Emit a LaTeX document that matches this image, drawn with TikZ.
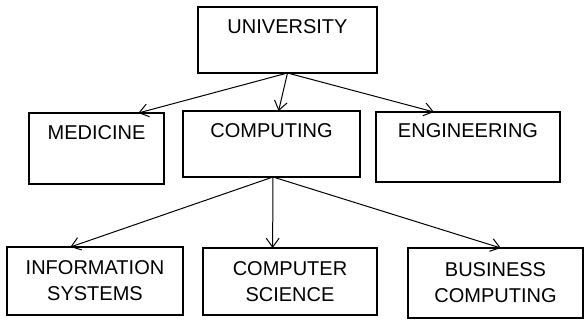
\documentclass[tikz,border=0pt]{standalone}
\usepackage{fontspec}
\setmainfont{Liberation Sans}
\usetikzlibrary{arrows.meta,calc}
\tikzset{
  box/.style={draw, line width=1.4pt, anchor=north west, inner sep=0pt, outer sep=0pt},
  lbl/.style={anchor=base, align=center, inner sep=0pt, font=\fontsize{20}{26}\selectfont},
  conn/.style={line width=1pt, -{Straight Barb[length=9pt,width=13pt,line width=1pt]}}
}
\begin{document}
\begin{tikzpicture}[x=1pt,y=-1pt]
\useasboundingbox (0,0) rectangle (585,320);
% boxes
\node[box, minimum width=179pt, minimum height=66pt] (uni) at (198,7) {};
\node[box, minimum width=135pt, minimum height=71pt] (med) at (29,113) {};
\node[box, minimum width=177pt, minimum height=66pt] (comp) at (183,111) {};
\node[box, minimum width=184pt, minimum height=70pt] (eng) at (376,112) {};
\node[box, minimum width=176pt, minimum height=68pt] (info) at (7,247) {};
\node[box, minimum width=174pt, minimum height=67pt] (cs) at (203,248) {};
\node[box, minimum width=175pt, minimum height=70pt] (bus) at (408,248) {};
% labels
\node[lbl] (tuni) at ([yshift=-27pt]uni.north) {UNIVERSITY};
\node[lbl] (tmed) at ([yshift=-27pt]med.north) {MEDICINE};
\node[lbl] (tcomp) at ([yshift=-27pt]comp.north) {COMPUTING};
\node[lbl] (teng) at ([yshift=-26pt]eng.north) {ENGINEERING};
\node[lbl] (tinfo) at ([yshift=-53pt]info.north) {INFORMATION\\SYSTEMS};
\node[lbl] (tcs) at ([yshift=-53pt]cs.north) {COMPUTER\\SCIENCE};
\node[lbl] (tbus) at ([yshift=-54pt]bus.north) {BUSINESS\\COMPUTING};
% connectors
\draw[conn] (uni.south) -- ($(med.north west)!0.81!(med.north east)$);
\draw[conn] (uni.south) -- ($(comp.north west)!0.54!(comp.north east)$);
\draw[conn] (uni.south) -- ($(eng.north west)!0.315!(eng.north east)$);
\draw[conn] ([xshift=1.5pt]comp.south) -- ($(info.north west)!0.36!(info.north east)$);
\draw[conn] ([xshift=1.5pt]comp.south) -- ($(cs.north west)!0.40!(cs.north east)$);
\draw[conn] ([xshift=1.5pt]comp.south) -- ($(bus.north west)!0.53!(bus.north east)$);
\end{tikzpicture}
\end{document}
